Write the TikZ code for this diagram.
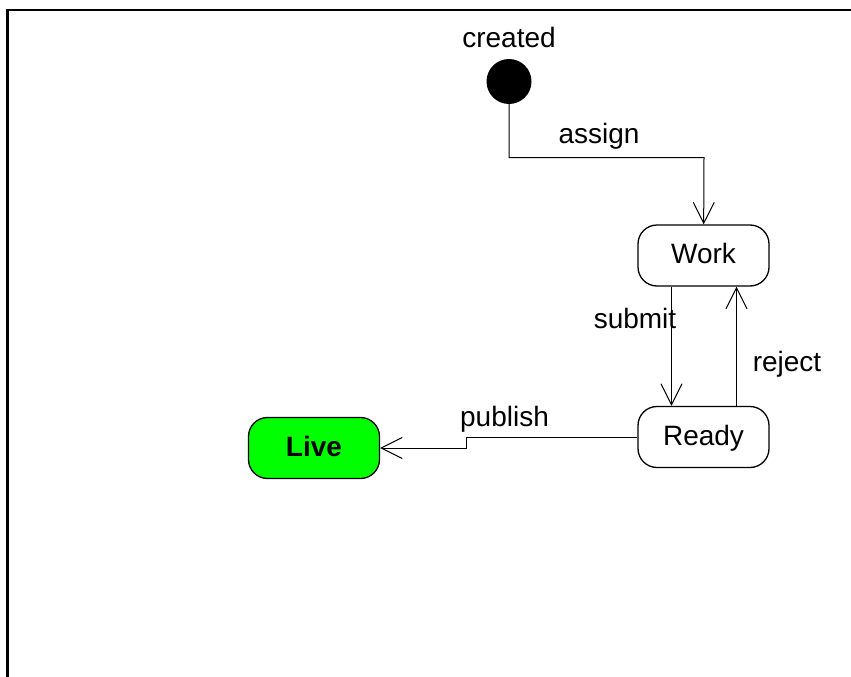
\documentclass[tikz,border=0pt]{standalone}
\usepackage{fontspec}
\setmainfont{Liberation Sans}
\usetikzlibrary{arrows.meta}
\definecolor{livegreen}{RGB}{0,255,0}
\begin{document}
\begin{tikzpicture}[x=1pt,y=-1pt,
  state/.style={draw, fill=white, rounded corners=19pt, minimum width=131pt, minimum height=61pt,
    line width=1.3pt, font=\fontsize{28}{31}\selectfont, inner sep=0pt, text height=16pt, text depth=0pt},
  edge/.style={line width=1pt, -{Straight Barb[length=21pt, width=21pt, line width=1pt]}},
  lbl/.style={font=\fontsize{28}{31}\selectfont, inner sep=0pt, anchor=base}]
\useasboundingbox (0,0) rectangle (851,677);
\draw[line width=2.2pt] (7.5,677) -- (7.5,10) -- (851,10);

\node[circle, fill=black, minimum size=45pt, inner sep=0pt] (init) at (509,81.5) {};
\node[lbl] (created) at (509,48) {created};

\node[state] (work) at (703.5,255.5) {Work};
\node[state] (ready) at (703.5,437) {Ready};
\node[state, fill=livegreen, font=\fontsize{28}{31}\selectfont\bfseries] (live) at (314,448) {Live};

\coordinate (abend) at (704,157.5);
\draw[edge] (init) |- (abend) -- (work);
\node[lbl] (assign) at (599,143.3) {assign};

\draw[edge] ([xshift=-32pt]work.south) -- ([xshift=-32pt]ready.north);
\node[lbl] (submit) at (635,328) {submit};

\draw[edge] ([xshift=33pt]ready.north) -- ([xshift=33pt]work.south);
\node[lbl] (reject) at (787,371.5) {reject};

\coordinate (pb1) at (466,437);
\coordinate (pb2) at (466,448);
\draw[edge] (ready.west) -- (pb1) -- (pb2) -- (live.east);
\node[lbl] (publish) at (504.5,426.7) {publish};
\end{tikzpicture}
\end{document}
